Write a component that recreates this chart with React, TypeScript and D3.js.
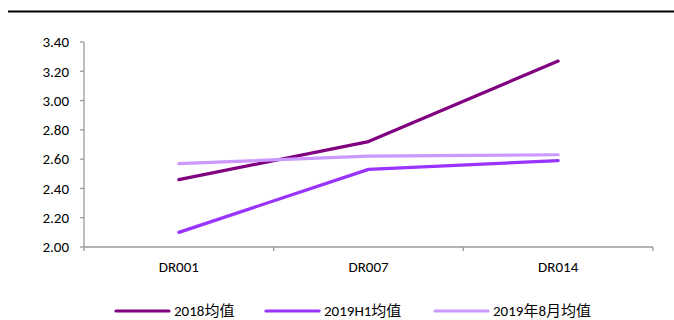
import React from "react";
import * as d3 from "d3";

const categories = ["DR001", "DR007", "DR014"];
const series2018 = [2.46, 2.72, 3.27];
const series2019H1 = [2.1, 2.53, 2.59];
const series2019Aug = [2.57, 2.62, 2.63];
const seriesNames = ["2018均值", "2019H1均值", "2019年8月均值"];
const yTicks = [2.0, 2.2, 2.4, 2.6, 2.8, 3.0, 3.2, 3.4];

const colors = ["#800080", "#9933FF", "#CC99FF"];
const font = "Carlito, 'Open Sans', 'Noto Sans', 'Noto Sans CJK SC', sans-serif";

export default function App() {
  const width = 674;
  const height = 320;
  const left = 84;
  const right = 653;
  const top = 42;
  const bottom = 247;

  const x = d3.scaleBand<string>().domain(categories).range([left, right]);
  const y = d3.scaleLinear().domain([2.0, 3.4]).range([bottom, top]);

  const line = d3
    .line<number>()
    .x((_, i) => (x(categories[i]) as number) + x.bandwidth() / 2)
    .y((d) => y(d));

  const allSeries = [series2018, series2019H1, series2019Aug];
  const boundaries = [...categories.map((c) => x(c) as number), right];
  const legendX = [116, 266, 435];

  return (
    <svg
      width={width}
      height={height}
      style={{ position: "absolute", left: 0, top: 0, fontFamily: font }}
    >
      <rect width={width} height={height} fill="#fff" />
      <line x1={8} x2={674} y1={11.5} y2={11.5} stroke="#000" strokeWidth={2} />

      {/* y axis */}
      <line x1={left} x2={left} y1={top} y2={bottom} stroke="#999" strokeWidth={1.3} />
      {yTicks.map((t) => (
        <g key={t}>
          <line x1={left - 4} x2={left} y1={y(t)} y2={y(t)} stroke="#999" strokeWidth={1.3} />
          <text x={left - 15} y={y(t)} dy="0.35em" textAnchor="end" fontSize={15} fill="#000">
            {t.toFixed(2)}
          </text>
        </g>
      ))}

      {/* x axis */}
      <line x1={left} x2={right} y1={bottom} y2={bottom} stroke="#999" strokeWidth={1.3} />
      {boundaries.map((b, i) => (
        <line key={i} x1={b} x2={b} y1={bottom} y2={bottom + 4} stroke="#999" strokeWidth={1.3} />
      ))}
      {categories.map((c) => (
        <text
          key={c}
          x={(x(c) as number) + x.bandwidth() / 2}
          y={267}
          dy="0.35em"
          textAnchor="middle"
          fontSize={15}
          fill="#000"
        >
          {c}
        </text>
      ))}

      {/* series lines */}
      {allSeries.map((s, i) => (
        <path
          key={i}
          d={line(s) as string}
          fill="none"
          stroke={colors[i]}
          strokeWidth={3.2}
          strokeLinecap="round"
          strokeLinejoin="round"
        />
      ))}

      {/* legend */}
      {seriesNames.map((n, i) => (
        <g key={n}>
          <line
            x1={legendX[i]}
            x2={legendX[i] + 53}
            y1={311}
            y2={311}
            stroke={colors[i]}
            strokeWidth={3.2}
            strokeLinecap="round"
          />
          <text x={legendX[i] + 58} y={311} dy="0.35em" fontSize={15} fill="#000">
            {n}
          </text>
        </g>
      ))}
    </svg>
  );
}
